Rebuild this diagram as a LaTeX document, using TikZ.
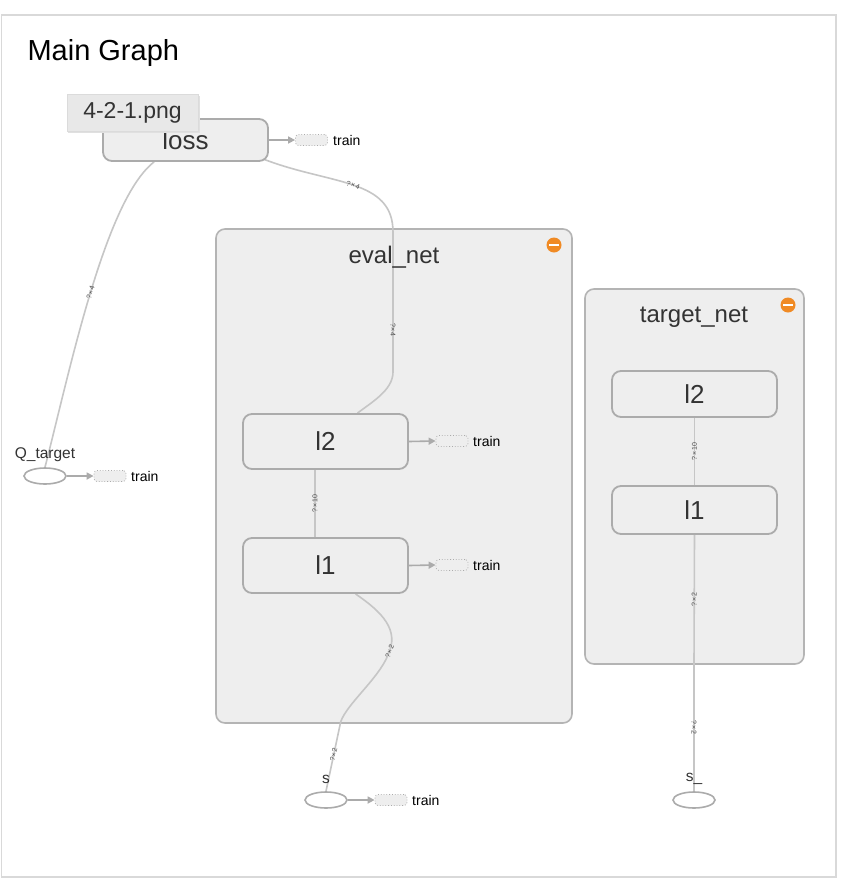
\documentclass[tikz,border=0pt]{standalone}
\usepackage{fontspec}
\setmainfont{Liberation Sans}
\usetikzlibrary{arrows.meta,calc,shapes.geometric}
\pgfdeclarelayer{back}
\pgfdeclarelayer{edges}
\pgfsetlayers{back,edges,main}
\definecolor{edgec}{HTML}{C6C6C6}
\definecolor{nodeb}{HTML}{ABABAB}
\definecolor{nodef}{HTML}{EEEEEE}
\definecolor{clusf}{HTML}{EEEEEE}
\definecolor{clusb}{HTML}{B4B4B4}
\definecolor{orng}{HTML}{F08A24}
\definecolor{txt}{HTML}{333333}
\newcommand{\dimlbl}[1]{?\kern0.8pt×\kern0.8pt#1}
\begin{document}
\begin{tikzpicture}[x=1pt,y=-1pt,
  cluster/.style={draw=clusb, line width=1.6pt, fill=clusf, rounded corners=9pt},
  opnode/.style={draw=nodeb, line width=1.8pt, fill=nodef, rounded corners=9pt, inner sep=0pt,
     minimum width=165pt, minimum height=55pt, text=txt, font=\fontsize{26}{28}\selectfont},
  phnode/.style={draw=nodeb, line width=1.6pt, fill=white, ellipse, minimum width=42pt, minimum height=16pt, inner sep=0pt},
  trainbox/.style={draw=nodeb, dotted, line width=0.8pt, fill=nodef, rounded corners=3pt, minimum width=32pt, minimum height=11pt, inner sep=0pt},
  trainlbl/.style={font=\fontsize{14}{16}\selectfont, text=black, anchor=west, inner sep=0pt},
  edge/.style={draw=edgec, line width=1.6pt},
  tarrow/.style={draw=nodeb, line width=1.6pt, -{Triangle[length=7pt,width=7pt]}},
  elabel/.style={font=\fontsize{7}{8}\selectfont, text=black!70, sloped, inner sep=0.5pt},
  title/.style={font=\fontsize{24}{26}\selectfont, text=txt},
  mlabel/.style={font=\fontsize{15.5}{17}\selectfont, text=txt},
  minus/.style={circle, fill=orng, minimum size=15pt, inner sep=0pt}
]
\useasboundingbox (0,0) rectangle (848,892);
\begin{pgfonlayer}{back}
\fill[white] (0,0) rectangle (848,892);
\draw[black!15, line width=1.2pt] (1.5,15) rectangle (836,877);
% clusters
\draw[cluster] (216,229) rectangle (572,723);
\draw[cluster] (585,289) rectangle (804,664);
\end{pgfonlayer}

\node[anchor=west, font=\fontsize{29}{32}\selectfont, text=black] (title) at (24,53) {Main Graph};

\node[title] (evt) at (394,257) {eval\_net};
\node[minus] (evm) at (554,245) {};
\draw[white, line width=2.2pt] (549,245) -- (559,245);

\node[title] (tgt) at (694,317) {target\_net};
\node[minus] (tgm) at (788,305) {};
\draw[white, line width=2.2pt] (783,305) -- (793,305);

% op nodes
\node[opnode, minimum width=165pt, minimum height=42pt] (loss) at (185.5,140) {loss};
\node[opnode] (el2) at (325.5,441.5) {l2};
\node[opnode] (el1) at (325.5,565.5) {l1};
\node[opnode, minimum height=46pt] (tl2) at (694.5,394) {l2};
\node[opnode, minimum height=48pt] (tl1) at (694.5,510) {l1};

% placeholders
\node[phnode] (qt) at (45,476) {};
\node[mlabel] (qtl) at (45,455) {Q\_target};
\node[phnode] (s) at (326,800) {};
\node[mlabel] (sl) at (326,779) {s};
\node[phnode] (s2) at (694,800) {};
\node[mlabel] (s2l) at (694,779) {s\_};

% train boxes
\node[trainbox] (tb1) at (311.5,140) {};
\node[trainlbl] (tl1t) at (333,140) {train};
\node[trainbox] (tb2) at (452,441) {};
\node[trainlbl] (tl2t) at (473,441) {train};
\node[trainbox] (tb3) at (452,565) {};
\node[trainlbl] (tl3t) at (473,565) {train};
\node[trainbox] (tb4) at (110,476) {};
\node[trainlbl] (tl4t) at (131,476) {train};
\node[trainbox] (tb5) at (391,800) {};
\node[trainlbl] (tl5t) at (412,800) {train};

\begin{pgfonlayer}{edges}
\draw[tarrow] (loss.east) -- (tb1.west);
\draw[tarrow] (el2.east) -- (tb2.west);
\draw[tarrow] (el1.east) -- (tb3.west);
\draw[tarrow] (qt.east) -- (tb4.west);
\draw[tarrow] (s.east) -- (tb5.west);

% data edges
\draw[edge] ($(loss.south west)+(52,0)$) .. controls (105,200) and (70,370) .. (qt.north)
  node[elabel, pos=0.5] {\dimlbl{4}};
\draw[edge] ($(loss.south east)+(-6,-3)$) .. controls (330,185) and (393,178) .. (393,232)
  node[elabel, pos=0.5] {\dimlbl{4}}
  -- (393,372) node[elabel, pos=0.7] {\dimlbl{4}}
  .. controls (393,390) and (372,402) .. ($(el2.north)+(32,0)$);
\draw[edge] (el1.north -| 315,0) -- (el2.south -| 315,0) node[elabel, midway] {\dimlbl{10}};
\draw[edge] ($(el1.south)+(30,0)$) .. controls (382,612) and (400,630) .. (388,655)
  node[elabel, pos=0.95] {\dimlbl{2}}
  .. controls (378,680) and (342,708) .. (340,725)
  -- (s.north) node[elabel, pos=0.45] {\dimlbl{2}};
\draw[edge] (tl1.north) -- (tl2.south) node[elabel, midway] {\dimlbl{10}};
\draw[edge] (tl1.south) -- (694,664) node[elabel, pos=0.5] {\dimlbl{2}}
  -- (s2.north) node[elabel, pos=0.5] {\dimlbl{2}};
\end{pgfonlayer}

% tooltip
\fill[black!12] (68,96) rectangle (200,133);
\node[draw=black!14, fill=black!9, minimum width=131pt, minimum height=37pt, inner sep=0pt,
  font=\fontsize{23}{25}\selectfont, text=txt] (tip) at (132.5,112.5) {4-2-1.png};
\end{tikzpicture}
\end{document}
